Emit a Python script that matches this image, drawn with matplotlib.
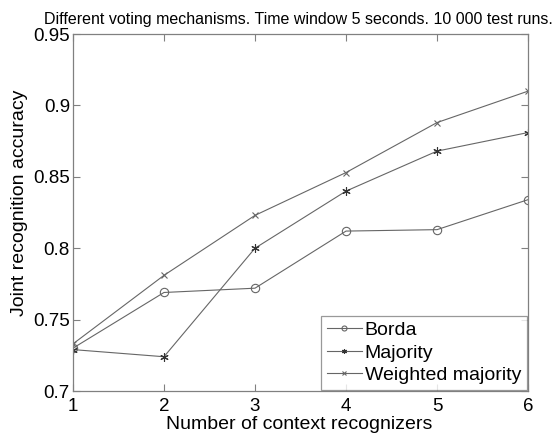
import matplotlib.pyplot as plt

plt.rcParams['font.family'] = ['Liberation Sans', 'DejaVu Sans']

recognizers = [1, 2, 3, 4, 5, 6]
borda = [0.730, 0.769, 0.772, 0.812, 0.813, 0.834]
majority = [0.729, 0.724, 0.800, 0.840, 0.868, 0.881]
weighted = [0.733, 0.781, 0.823, 0.853, 0.888, 0.910]

fig = plt.figure(figsize=(5.57, 4.38), dpi=100)
ax = fig.add_axes([0.131, 0.1073, 0.817, 0.815])

line_color = '#666666'
ax.plot(recognizers, borda, color=line_color, lw=0.8, marker='o', ms=6,
        mfc='none', mec=line_color, mew=0.8, label='Borda')
ax.plot(recognizers, majority, color=line_color, lw=0.8, marker=(6, 2, 0), ms=6,
        mec='#333333', mew=0.8, label='Majority')
ax.plot(recognizers, weighted, color=line_color, lw=0.8, marker='x', ms=4.5,
        mec=line_color, mew=0.8, label='Weighted majority')

ax.set_xlim(1, 6)
ax.set_ylim(0.7, 0.95)
ax.set_xticks(recognizers)
ax.set_xticklabels([str(v) for v in recognizers])
yticks = [0.7, 0.75, 0.8, 0.85, 0.9, 0.95]
ax.set_yticks(yticks)
ax.set_yticklabels(['0.7', '0.75', '0.8', '0.85', '0.9', '0.95'])
ax.tick_params(direction='in', top=True, right=True, labelsize=13.5,
               length=5, width=0.8, color='#808080')
ax.tick_params(axis='x', pad=5.3)
ax.tick_params(axis='y', pad=2.2)
for spine in ax.spines.values():
    spine.set_color('#808080')
    spine.set_linewidth(0.9)

ax.set_xlabel('Number of context recognizers', fontsize=14)
ax.xaxis.set_label_coords(0.497, -0.071)
ax.set_ylabel('Joint recognition accuracy', fontsize=14)
ax.yaxis.set_label_coords(-0.099, 0.528)
ax.set_title('Different voting mechanisms. Time window 5 seconds. 10 000 test runs.',
             fontsize=11.5, pad=7.5, x=0.495)

leg = ax.legend(loc='lower right', fontsize=14, frameon=True, fancybox=False,
                borderpad=0.3, labelspacing=0.25, handlelength=1.8,
                handletextpad=0.15, borderaxespad=0.05, edgecolor='#808080',
                markerscale=0.6)
leg.get_frame().set_linewidth(0.9)

fig.savefig('out.png', dpi=100)
